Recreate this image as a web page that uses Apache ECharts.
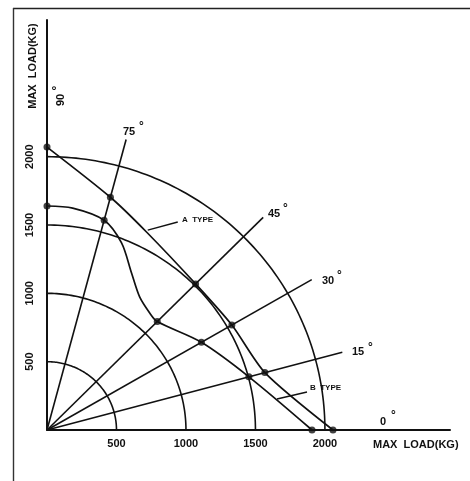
<!DOCTYPE html>
<html><head><meta charset="utf-8">
<script src="https://cdn.jsdelivr.net/npm/echarts@6/dist/echarts.min.js"></script>
<style>html,body{margin:0;padding:0;background:#fff}#c{width:470px;height:481px}</style>
</head><body><div id="c"></div>
<script>
// measured points: loading angle (deg) and max load (kg)
const angles = [90, 75, 45, 30, 15, 0];
const loadA = [2070, 1763, 1512, 1536, 1623, 2058];
const loadB = [1639, 1589, 1122, 1283, 1504, 1907];
// extra points [angle, load]
const traceA = [[63.7, 1616]];
const traceB = [[83.5, 1634], [68.6, 1470], [62.1, 1300], [55.6, 1180], [49.2, 1131]];
// guide rays and arcs
const rayAngles = [15, 30, 45, 75];
const rayLength = 2200;
const arcRadii = [500, 1000, 1500, 2000];
const tickValues = [500, 1000, 1500, 2000];
// leader lines for the type labels [x, y] kg
const leaderA = [[725, 1463], [941, 1522]];
const leaderB = [[1655, 227], [1871, 278]];

const toXY = (a, r) => { const t = a * Math.PI / 180; return [r * Math.cos(t), r * Math.sin(t)]; };
const ptsA = angles.map((a, i) => toXY(a, loadA[i]));
const ptsB = angles.map((a, i) => toXY(a, loadB[i]));
const curve = (loads, trace) => angles.map((a, i) => [a, loads[i]]).concat(trace)
  .sort((p, q) => q[0] - p[0]).map(p => toXY(p[0], p[1]));

const INK = '#111';
const FONT = 'Liberation Sans, Arial, sans-serif';
const lineS = (data, w, smooth) => ({
  type: 'line', data, symbol: 'none', smooth: smooth || false, silent: true,
  lineStyle: { color: INK, width: w || 1.6 }, z: 3
});

const series = [];
series.push({
  type: 'custom', coordinateSystem: 'cartesian2d', silent: true,
  data: arcRadii.map(r => [r, 0]),
  renderItem: (params, api) => {
    const r = api.value(0); const points = [];
    for (let d = 0; d <= 90; d += 1) points.push(api.coord(toXY(d, r)));
    return { type: 'polyline', shape: { points }, style: { stroke: INK, lineWidth: 1.6, fill: null } };
  }, z: 2
});
rayAngles.forEach(a => series.push(lineS([[0, 0], toXY(a, rayLength)], 1.6)));
series.push(lineS(curve(loadA, traceA), 1.7, 0.25));
series.push(lineS(curve(loadB, traceB), 1.7, 0.3));
series.push(lineS(leaderA, 1.4));
series.push(lineS(leaderB, 1.4));
series.push({
  type: 'scatter', data: ptsA.concat(ptsB), symbol: 'circle', symbolSize: 7,
  itemStyle: { color: INK }, z: 5, silent: true
});

const txt = (text, x, y, size, rot, align) => ({
  type: 'text', x, y, silent: true, rotation: rot || 0,
  style: { text, font: `bold ${size}px ${FONT}`, fill: INK, align: align || 'left', verticalAlign: 'middle' }
});
const graphic = [
  { type: 'line', silent: true, shape: { x1: 13, y1: 8.5, x2: 470, y2: 8.5 }, style: { stroke: '#222', lineWidth: 1.6 } },
  { type: 'line', silent: true, shape: { x1: 13.5, y1: 8, x2: 13.5, y2: 481 }, style: { stroke: '#333', lineWidth: 1.4 } },
  txt('MAX  LOAD(KG)', 373, 445, 11),
  txt('MAX  LOAD(KG)', 33, 66, 11, Math.PI / 2, 'center'),
  txt('90', 61, 100, 11, Math.PI / 2, 'center'),
  txt('°', 58, 88, 12, Math.PI / 2, 'center'),
  txt('75', 123, 132, 11), txt('°', 139, 127, 12),
  txt('45', 268, 214, 11), txt('°', 283, 209, 12),
  txt('30', 322, 281, 11), txt('°', 337, 276, 12),
  txt('15', 352, 352, 11), txt('°', 368, 348, 12),
  txt('0', 380, 422, 11), txt('°', 391, 416, 12),
  txt('A  TYPE', 182, 220, 8),
  txt('B  TYPE', 310, 388, 8)
];

const axisCommon = {
  type: 'value', interval: 500,
  axisLine: { show: true, lineStyle: { color: INK, width: 2 } },
  axisTick: { show: false }, splitLine: { show: false },
};
const chart = echarts.init(document.getElementById('c'), null, { renderer: 'canvas' });
chart.setOption({
  animation: false, backgroundColor: '#fff',
  grid: { left: 47, top: 20, right: 20, bottom: 51, containLabel: false },
  xAxis: Object.assign({}, axisCommon, {
    min: 0, max: 2900,
    axisLabel: { margin: 8, color: INK, fontWeight: 'bold', fontSize: 11, fontFamily: FONT,
      formatter: v => tickValues.includes(v) ? String(v) : '' }
  }),
  yAxis: Object.assign({}, axisCommon, {
    min: 0, max: 3000,
    axisLabel: { margin: 12, rotate: 90, color: INK, fontWeight: 'bold', fontSize: 11, fontFamily: FONT,
      formatter: v => tickValues.includes(v) ? String(v) : '' }
  }),
  series, graphic
});
</script></body></html>
